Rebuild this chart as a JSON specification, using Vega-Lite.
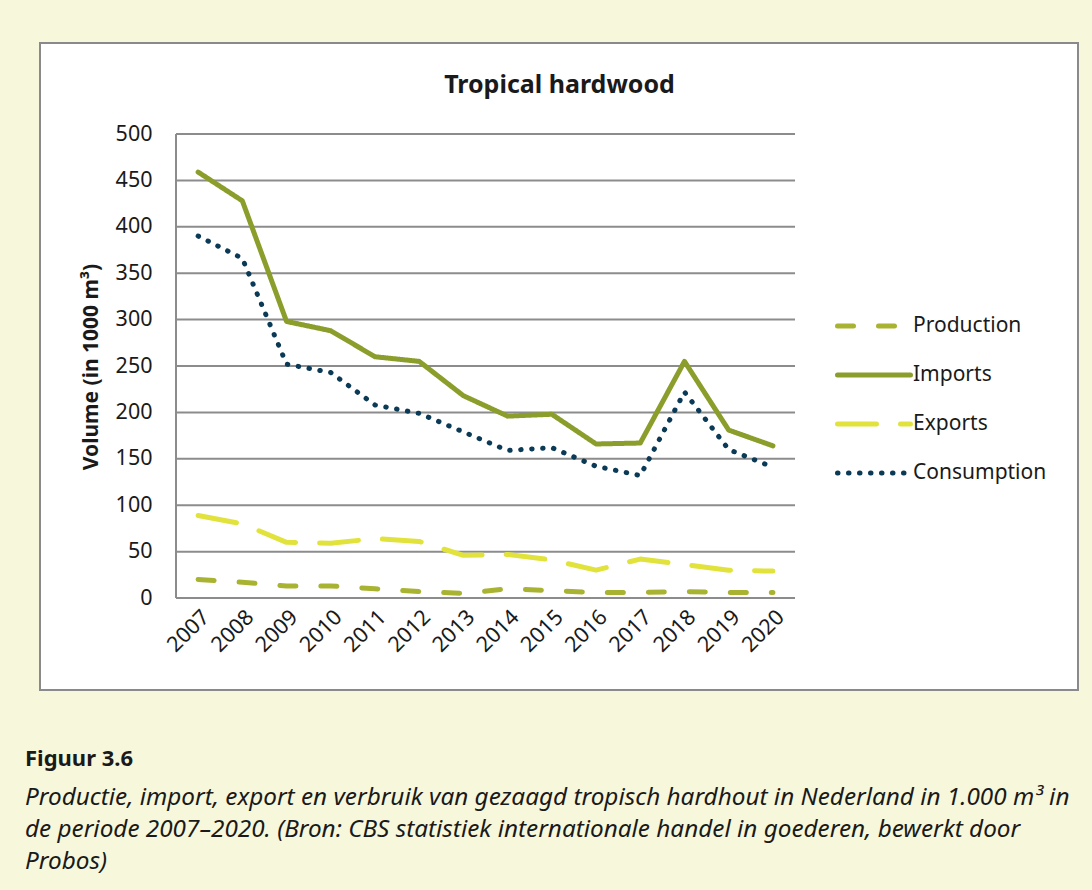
{
  "$schema": "https://vega.github.io/schema/vega-lite/v6.json",
  "autosize": {"type": "none"},
  "width": 1038,
  "height": 647,
  "padding": {"left": 40, "top": 43, "right": 14, "bottom": 200},
  "background": "#f7f7dc",
  "config": {
    "font": "Noto Sans",
    "view": {"fill": "white", "stroke": "#8a8a8a", "strokeWidth": 2},
    "axis": {"labelColor": "#1a1a1a", "titleColor": "#1a1a1a", "labelFont": "Noto Sans", "titleFont": "Noto Sans"}
  },
  "title": {
    "text": "Figuur 3.6",
    "subtitle": [
      "Productie, import, export en verbruik van gezaagd tropisch hardhout in Nederland in 1.000 m³ in",
      "de periode 2007–2020. (Bron: CBS statistiek internationale handel in goederen, bewerkt door",
      "Probos)"
    ],
    "orient": "bottom",
    "anchor": "start",
    "frame": "group",
    "offset": 59,
    "dx": -15,
    "font": "Noto Sans",
    "fontSize": 22,
    "fontWeight": "bold",
    "color": "#1a1a1a",
    "subtitleFont": "Noto Sans",
    "subtitleFontSize": 24.3,
    "subtitleFontStyle": "italic",
    "subtitleFontWeight": "normal",
    "subtitleColor": "#1a1a1a",
    "subtitleLineHeight": 32,
    "subtitlePadding": 15
  },
  "resolve": {"axis": {"x": "independent", "y": "independent"}},
  "layer": [
    {
      "data": {"values": [{"v": 0}, {"v": 50}, {"v": 100}, {"v": 150}, {"v": 200}, {"v": 250}, {"v": 300}, {"v": 350}, {"v": 400}, {"v": 450}, {"v": 500}]},
      "mark": {"type": "rule", "color": "#8c8c8c", "strokeWidth": 2},
      "encoding": {
        "x": {"datum": 2006.5, "type": "quantitative",
          "scale": {"domain": [2003.424, 2026.9], "nice": false, "zero": false},
          "axis": {"orient": "top", "title": "Tropical hardwood", "titleFontSize": 25, "titleFontWeight": "bold", "labels": false, "ticks": false, "domain": false, "grid": false, "offset": -62, "titlePadding": 8}},
        "x2": {"datum": 2020.5},
        "y": {"field": "v", "type": "quantitative", "scale": {"domain": [-99.1, 598.06], "nice": false, "zero": false}, "axis": null}
      }
    },
    {
      "data": {"values": [{"a": 0, "b": 500}]},
      "mark": {"type": "rule", "color": "#8c8c8c", "strokeWidth": 2},
      "encoding": {
        "x": {"datum": 2006.5, "type": "quantitative", "axis": null},
        "y": {"field": "a", "type": "quantitative", "axis": null},
        "y2": {"field": "b"}
      }
    },
    {
      "data": {"values": [
        {"year": 2007, "series": "Production", "value": 20},
        {"year": 2008, "series": "Production", "value": 17},
        {"year": 2009, "series": "Production", "value": 13},
        {"year": 2010, "series": "Production", "value": 13},
        {"year": 2011, "series": "Production", "value": 10},
        {"year": 2012, "series": "Production", "value": 7},
        {"year": 2013, "series": "Production", "value": 5},
        {"year": 2014, "series": "Production", "value": 10},
        {"year": 2015, "series": "Production", "value": 8},
        {"year": 2016, "series": "Production", "value": 6},
        {"year": 2017, "series": "Production", "value": 6},
        {"year": 2018, "series": "Production", "value": 7},
        {"year": 2019, "series": "Production", "value": 6},
        {"year": 2020, "series": "Production", "value": 6},
        {"year": 2007, "series": "Imports", "value": 459},
        {"year": 2008, "series": "Imports", "value": 428},
        {"year": 2009, "series": "Imports", "value": 298},
        {"year": 2010, "series": "Imports", "value": 288},
        {"year": 2011, "series": "Imports", "value": 260},
        {"year": 2012, "series": "Imports", "value": 255},
        {"year": 2013, "series": "Imports", "value": 218},
        {"year": 2014, "series": "Imports", "value": 196},
        {"year": 2015, "series": "Imports", "value": 198},
        {"year": 2016, "series": "Imports", "value": 166},
        {"year": 2017, "series": "Imports", "value": 167},
        {"year": 2018, "series": "Imports", "value": 255},
        {"year": 2019, "series": "Imports", "value": 181},
        {"year": 2020, "series": "Imports", "value": 164},
        {"year": 2007, "series": "Exports", "value": 89},
        {"year": 2008, "series": "Exports", "value": 80},
        {"year": 2009, "series": "Exports", "value": 60},
        {"year": 2010, "series": "Exports", "value": 59},
        {"year": 2011, "series": "Exports", "value": 64},
        {"year": 2012, "series": "Exports", "value": 61},
        {"year": 2013, "series": "Exports", "value": 46},
        {"year": 2014, "series": "Exports", "value": 47},
        {"year": 2015, "series": "Exports", "value": 41},
        {"year": 2016, "series": "Exports", "value": 30},
        {"year": 2017, "series": "Exports", "value": 42},
        {"year": 2018, "series": "Exports", "value": 36},
        {"year": 2019, "series": "Exports", "value": 30},
        {"year": 2020, "series": "Exports", "value": 29},
        {"year": 2007, "series": "Consumption", "value": 390},
        {"year": 2008, "series": "Consumption", "value": 366},
        {"year": 2009, "series": "Consumption", "value": 252},
        {"year": 2010, "series": "Consumption", "value": 243},
        {"year": 2011, "series": "Consumption", "value": 208},
        {"year": 2012, "series": "Consumption", "value": 199},
        {"year": 2013, "series": "Consumption", "value": 179},
        {"year": 2014, "series": "Consumption", "value": 159},
        {"year": 2015, "series": "Consumption", "value": 162},
        {"year": 2016, "series": "Consumption", "value": 142},
        {"year": 2017, "series": "Consumption", "value": 132},
        {"year": 2018, "series": "Consumption", "value": 222},
        {"year": 2019, "series": "Consumption", "value": 160},
        {"year": 2020, "series": "Consumption", "value": 141}
      ]},
      "mark": {"type": "line", "strokeWidth": 5, "strokeCap": "round", "strokeJoin": "round"},
      "encoding": {
        "x": {"field": "year", "type": "quantitative",
          "axis": {"orient": "bottom", "title": null, "values": [2007, 2008, 2009, 2010, 2011, 2012, 2013, 2014, 2015, 2016, 2017, 2018, 2019, 2020], "format": "d", "labelAngle": -45, "labelFontSize": 21.5, "labelPadding": 8, "ticks": false, "domain": false, "grid": false, "offset": -92, "labelFlush": false, "labelOverlap": false}},
        "y": {"field": "value", "type": "quantitative",
          "axis": {"orient": "left", "title": "Volume (in 1000 m³)", "titleFontSize": 21, "titleFontWeight": "bold", "values": [0, 50, 100, 150, 200, 250, 300, 350, 400, 450, 500], "labelFontSize": 21.5, "labelPadding": 24, "ticks": false, "domain": false, "grid": false, "offset": -136, "titlePadding": 14, "labelFlush": false, "labelOverlap": false}},
        "color": {"field": "series", "type": "nominal",
          "scale": {"domain": ["Production", "Imports", "Exports", "Consumption"], "range": ["#a9b332", "#8b9e2b", "#e1e33c", "#0b3a57"]},
          "legend": {"orient": "none", "legendX": 795, "legendY": 244, "title": null, "symbolType": "stroke", "symbolSize": 5329, "symbolStrokeWidth": 5, "labelFontSize": 21, "labelColor": "#1a1a1a", "labelOffset": 0, "rowPadding": 0,
            "encode": {"symbols": {"update": {"strokeCap": {"value": "round"}}}}}},
        "strokeDash": {"field": "series", "type": "nominal",
          "scale": {"domain": ["Production", "Imports", "Exports", "Consumption"], "range": [[16, 25], [1, 0], [39, 24], [0.5, 10.5]]},
          "legend": {"orient": "none", "legendX": 795, "legendY": 244, "title": null, "symbolType": "stroke", "symbolSize": 5329, "symbolStrokeWidth": 5, "labelFontSize": 21, "labelColor": "#1a1a1a", "labelOffset": 0, "rowPadding": 0,
            "encode": {"symbols": {"update": {"strokeCap": {"value": "round"}}}}}}
      }
    }
  ]
}
